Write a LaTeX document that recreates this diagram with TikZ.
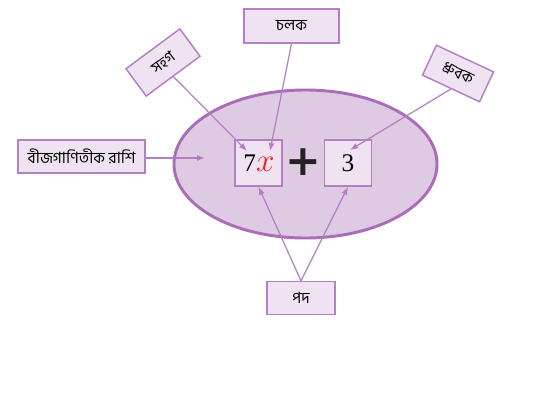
\documentclass[tikz,border=0pt]{standalone}
\usepackage{fontspec}
\newfontfamily\bn[Script=Bengali]{Hind Siliguri}
\newfontfamily\dv{DejaVu Sans}
\newfontfamily\sr{Liberation Serif}
\usetikzlibrary{arrows.meta}
\definecolor{ellfill}{RGB}{222,202,226}
\definecolor{ellline}{RGB}{170,110,185}
\definecolor{boxfill}{RGB}{239,227,241}
\definecolor{boxline}{RGB}{180,128,195}
\definecolor{arr}{RGB}{180,125,195}
\definecolor{xred}{RGB}{235,30,40}
\definecolor{plusc}{RGB}{35,35,35}
\tikzset{
  lbl/.style={draw=boxline, fill=boxfill, line width=1.1pt, inner sep=0pt, font=\bn\fontsize{11.7}{13}\selectfont, text=black},
  term/.style={draw=boxline, fill=boxfill, line width=1.1pt, inner sep=0pt, minimum width=35pt, minimum height=34.5pt},
  conn/.style={draw=arr, line width=0.9pt},
  arrw/.style={conn, -{Latex[length=6pt,width=4.5pt]}}
}
\begin{document}
\begin{tikzpicture}[x=0.75pt,y=-0.75pt]
\useasboundingbox (0,0) rectangle (555,403);
\draw[fill=ellfill, draw=ellline, line width=2.2pt] (305.5,164) ellipse [x radius=131.5, y radius=74];
\node[term] (t1) at (258.5,163) {};
\node[term] (t2) at (348,163) {};
\node (seven) at (259,163) {\sr\fontsize{19}{20}\selectfont 7\textcolor{xred}{\fontsize{27}{27}\selectfont$x$}};
\node (three) at (348,163) {\sr\fontsize{19}{20}\selectfont 3};
\node[text=plusc] (plus) at (303,162) {\dv\bfseries\fontsize{32}{32}\selectfont +};
\node[lbl, minimum width=71.25pt, minimum height=25.5pt] (chalak) at (291.5,26) {চলক};
\node[lbl, minimum width=50.25pt, minimum height=25.5pt, rotate=36.5] (sahag) at (163,62.5) {সহগ};
\node[lbl, minimum width=47.25pt, minimum height=24.75pt, rotate=-25] (dhrubak) at (458,73.5) {ধ্রুবক};
\node[lbl, minimum width=95.25pt, minimum height=24.75pt] (bij) at (81.7,156.5) {বীজগাণিতীক রাশি};
\node[lbl, minimum width=51pt, minimum height=24.75pt] (pad) at (301,298) {পদ};
\coordinate (bijend) at (205,158);
\coordinate (sahagend) at (247,151);
\coordinate (chalakend) at (270,151);
\coordinate (dhrubakend) at (350,150);
\draw[arrw] (bij.east |- bijend) -- (bijend);
\draw[arrw] (sahag.south) -- (sahagend);
\draw[arrw] (chalak.south) -- (chalakend);
\draw[arrw] (dhrubak.south) -- (dhrubakend);
\draw[arrw] (pad.north) -- (t1.south);
\draw[arrw] (pad.north) -- (t2.south);
\end{tikzpicture}
\end{document}
